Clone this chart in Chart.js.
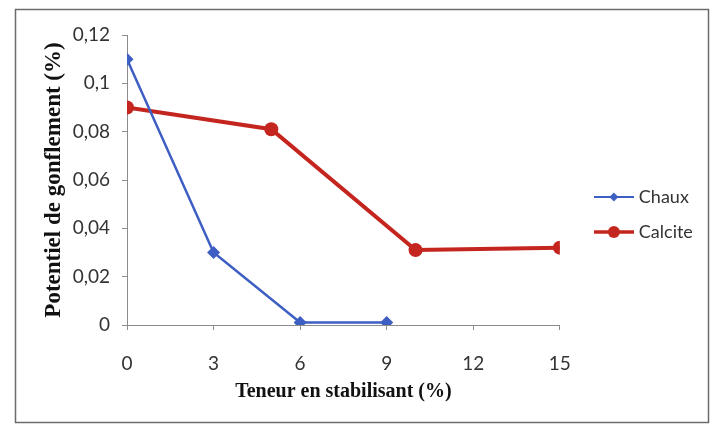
<!DOCTYPE html>
<html>
<head>
<meta charset="utf-8">
<script src="https://cdn.jsdelivr.net/npm/chart.js@4/dist/chart.umd.min.js"></script>
<style>
  html, body { margin: 0; padding: 0; background: #fff; }
  #wrap { position: relative; width: 715px; height: 427px; }
</style>
</head>
<body>
<div id="wrap"><canvas id="c" width="715" height="427"></canvas></div>
<script>
// Stabiliser content (%) and swelling potential (%)
const chauxContent   = [0, 3, 6, 9];
const chauxSwelling  = [0.11, 0.03, 0.001, 0.001];
const calciteContent  = [0, 5, 10, 15];
const calciteSwelling = [0.09, 0.081, 0.031, 0.032];

const xTicks = [0, 3, 6, 9, 12, 15];
const yTicks = [0, 0.02, 0.04, 0.06, 0.08, 0.1, 0.12];
const yTickLabels = ['0', '0,02', '0,04', '0,06', '0,08', '0,1', '0,12'];

const seriesNames = ['Chaux', 'Calcite'];
const xTitle = 'Teneur en stabilisant (%)';
const yTitle = 'Potentiel de gonflement (%)';

const BLUE = '#3d5ec2';
const RED = '#c4261f';
const AXIS = '#8c8c8c';
const TICK_FONT = 'Lato';

// small legend swatch: line with the series marker in its middle
function swatch(color, lineWidth, shape, r) {
  const cv = document.createElement('canvas');
  cv.width = 40; cv.height = 16;
  const g = cv.getContext('2d');
  g.strokeStyle = color; g.lineWidth = lineWidth;
  g.beginPath(); g.moveTo(0, 8); g.lineTo(40, 8); g.stroke();
  g.fillStyle = color;
  g.beginPath();
  if (shape === 'diamond') {
    g.moveTo(20, 8 - r); g.lineTo(20 + r, 8); g.lineTo(20, 8 + r); g.lineTo(20 - r, 8);
    g.closePath();
  } else {
    g.arc(20, 8, r, 0, Math.PI * 2);
  }
  g.fill();
  return cv;
}
const swatches = [swatch(BLUE, 2, 'diamond', 4.5), swatch(RED, 3.5, 'circle', 6)];

const framePlugin = {
  id: 'frame',
  beforeDraw(chart) {
    const ctx = chart.ctx;
    ctx.save();
    ctx.fillStyle = '#fff';
    ctx.fillRect(0, 0, chart.width, chart.height);
    ctx.strokeStyle = '#6b6b6b';
    ctx.lineWidth = 1.5;
    ctx.strokeRect(15.5, 9.5, 693, 413);
    ctx.restore();
  }
};

new Chart(document.getElementById('c'), {
  type: 'line',
  data: {
    datasets: [
      {
        label: seriesNames[0],
        data: chauxContent.map((x, i) => ({ x, y: chauxSwelling[i] })),
        borderColor: BLUE,
        backgroundColor: BLUE,
        borderWidth: 2.5,
        pointStyle: 'rectRot',
        pointRadius: 6.5,
        pointBorderWidth: 0,
        tension: 0
      },
      {
        label: seriesNames[1],
        data: calciteContent.map((x, i) => ({ x, y: calciteSwelling[i] })),
        borderColor: RED,
        backgroundColor: RED,
        borderWidth: 4,
        pointStyle: 'circle',
        pointRadius: 7,
        pointBorderWidth: 0,
        tension: 0
      }
    ]
  },
  options: {
    responsive: false,
    animation: false,
    devicePixelRatio: 1,
    layout: { padding: { top: 35, bottom: 33, left: 0, right: 18 } },
    plugins: {
      tooltip: { enabled: false },
      legend: {
        position: 'right',
        align: 'center',
        labels: {
          usePointStyle: true,
          pointStyleWidth: 32,
          padding: 17,
          color: '#333',
          font: { family: TICK_FONT, size: 18 },
          generateLabels(chart) {
            const items = Chart.defaults.plugins.legend.labels.generateLabels(chart);
            items.forEach((it, i) => { it.pointStyle = swatches[i]; });
            return items;
          }
        }
      }
    },
    scales: {
      x: {
        type: 'linear',
        min: 0, max: 15,
        afterBuildTicks(s) { s.ticks = xTicks.map(v => ({ value: v })); },
        afterFit(s) { s.height = 69; },
        grid: { drawOnChartArea: false, drawTicks: true, tickLength: 5, color: AXIS },
        border: { display: true, color: AXIS, width: 1 },
        ticks: { color: '#333', padding: 22, font: { family: TICK_FONT, size: 19 } },
        title: {
          display: true, text: xTitle, color: '#111',
          font: { family: 'Liberation Serif', size: 20, weight: 'bold', lineHeight: 1 },
          padding: { top: 0, bottom: -8 }
        }
      },
      y: {
        type: 'linear',
        min: 0, max: 0.12,
        afterBuildTicks(s) { s.ticks = yTicks.map(v => ({ value: v })); },
        afterFit(s) { s.width = 127; },
        grid: { drawOnChartArea: false, drawTicks: true, tickLength: 5, color: AXIS },
        border: { display: true, color: AXIS, width: 1 },
        ticks: {
          color: '#333', padding: 12,
          font: { family: TICK_FONT, size: 19 },
          callback(v) { const i = yTicks.findIndex(t => Math.abs(t - v) < 1e-9); return i >= 0 ? yTickLabels[i] : ''; }
        },
        title: {
          display: true, text: yTitle, color: '#111',
          font: { family: 'Liberation Serif', size: 23, weight: 'bold', lineHeight: 1.2 },
          padding: { top: 40, bottom: 0 }
        }
      },
      gap: {
        type: 'linear',
        position: 'right',
        display: true,
        grid: { display: false },
        border: { display: false },
        ticks: { display: false },
        afterFit(s) { s.width = 21; }
      }
    }
  },
  plugins: [framePlugin]
});
</script>
</body>
</html>
